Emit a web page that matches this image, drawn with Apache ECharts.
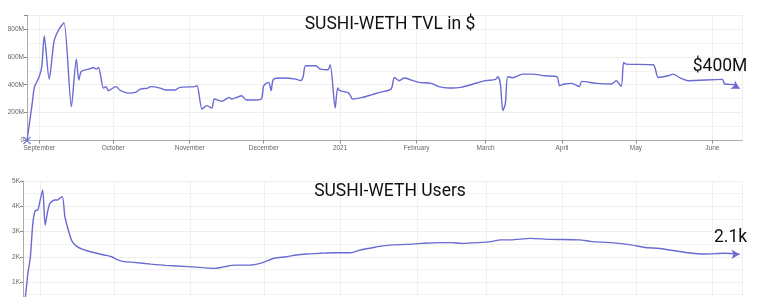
<!DOCTYPE html>
<html>
<head>
<meta charset="utf-8">
<script src="https://cdn.jsdelivr.net/npm/echarts@6/dist/echarts.min.js"></script>
<style>
  html, body { margin: 0; padding: 0; background: #fff; }
  #chart { width: 780px; height: 297px; }
</style>
</head>
<body>
<div id="chart"></div>
<script>
// TVL in millions of $
const tvlDates = [
  '2020-08-27', '2020-08-29', '2020-08-30', '2020-09-01', '2020-09-02', '2020-09-03', '2020-09-05',
  '2020-09-07', '2020-09-09', '2020-09-11', '2020-09-14', '2020-09-16', '2020-09-17', '2020-09-18',
  '2020-09-21', '2020-09-23', '2020-09-24', '2020-09-25', '2020-09-27', '2020-09-28', '2020-09-29',
  '2020-10-02', '2020-10-04', '2020-10-07', '2020-10-10', '2020-10-12', '2020-10-15', '2020-10-16',
  '2020-10-20', '2020-10-22', '2020-10-26', '2020-10-28', '2020-11-03', '2020-11-04', '2020-11-06',
  '2020-11-08', '2020-11-10', '2020-11-11', '2020-11-14', '2020-11-17', '2020-11-18', '2020-11-22',
  '2020-11-24', '2020-11-26', '2020-11-30', '2020-12-01', '2020-12-03', '2020-12-04', '2020-12-05',
  '2020-12-09', '2020-12-14', '2020-12-16', '2020-12-17', '2020-12-18', '2020-12-22', '2020-12-24',
  '2020-12-27', '2020-12-28', '2020-12-30', '2020-12-31', '2021-01-01', '2021-01-04', '2021-01-05',
  '2021-01-06', '2021-01-10', '2021-01-14', '2021-01-17', '2021-01-21', '2021-01-22', '2021-01-23',
  '2021-01-25', '2021-01-27', '2021-01-30', '2021-02-02', '2021-02-07', '2021-02-10', '2021-02-14',
  '2021-02-19', '2021-02-24', '2021-03-01', '2021-03-05', '2021-03-06', '2021-03-07', '2021-03-08',
  '2021-03-09', '2021-03-10', '2021-03-12', '2021-03-16', '2021-03-20', '2021-03-25', '2021-03-30',
  '2021-03-31', '2021-04-02', '2021-04-05', '2021-04-08', '2021-04-09', '2021-04-15', '2021-04-21',
  '2021-04-23', '2021-04-25', '2021-04-26', '2021-04-27', '2021-05-08', '2021-05-10', '2021-05-14',
  '2021-05-16', '2021-05-19', '2021-05-22', '2021-06-05', '2021-06-06', '2021-06-10', '2021-06-12'
];
const tvlValues = [
  0, 250, 380, 460, 530, 750, 440,
  714, 798, 845, 243, 583, 433, 495,
  512, 524, 512, 524, 376, 386, 357,
  386, 357, 340, 345, 369, 376, 386,
  376, 362, 362, 381, 386, 393, 226,
  250, 233, 298, 281, 309, 298, 321,
  290, 290, 298, 393, 417, 357, 440,
  448, 440, 429, 457, 536, 536, 512,
  507, 543, 233, 376, 357, 345, 329,
  298, 309, 329, 345, 362, 381, 452,
  429, 448, 433, 417, 410, 386, 376,
  381, 405, 429, 438, 457, 405, 214,
  262, 457, 450, 476, 476, 464, 457,
  393, 405, 410, 386, 424, 410, 405,
  429, 386, 559, 548, 543, 452, 464,
  476, 448, 429, 438, 405, 400, 372
];

// users in thousands
const userDates = [
  '2020-08-25', '2020-08-26', '2020-08-27', '2020-08-28', '2020-08-29', '2020-08-30', '2020-08-31',
  '2020-09-01', '2020-09-02', '2020-09-03', '2020-09-04', '2020-09-05', '2020-09-07', '2020-09-08',
  '2020-09-09', '2020-09-10', '2020-09-11', '2020-09-12', '2020-09-13', '2020-09-14', '2020-09-16',
  '2020-09-18', '2020-09-20', '2020-09-23', '2020-09-27', '2020-09-30', '2020-10-02', '2020-10-05',
  '2020-10-09', '2020-10-16', '2020-10-22', '2020-10-31', '2020-11-06', '2020-11-11', '2020-11-15',
  '2020-11-19', '2020-11-25', '2020-11-30', '2020-12-05', '2020-12-10', '2020-12-14', '2020-12-18',
  '2020-12-24', '2020-12-29', '2021-01-05', '2021-01-09', '2021-01-14', '2021-01-18', '2021-01-22',
  '2021-01-28', '2021-02-03', '2021-02-10', '2021-02-15', '2021-02-19', '2021-02-26', '2021-03-03',
  '2021-03-07', '2021-03-11', '2021-03-19', '2021-03-27', '2021-04-08', '2021-04-13', '2021-04-21',
  '2021-04-29', '2021-05-04', '2021-05-12', '2021-05-22', '2021-05-29', '2021-06-06', '2021-06-12'
];
const userValues = [
  0, 0.45, 1.35, 2.0, 3.33, 3.83, 3.85,
  4.25, 4.65, 3.25, 3.79, 4.12, 4.25, 4.25,
  4.32, 4.38, 3.6, 3.2, 2.86, 2.6, 2.4,
  2.3, 2.24, 2.16, 2.07, 2.0, 1.9, 1.81,
  1.78, 1.71, 1.66, 1.61, 1.57, 1.54, 1.61,
  1.67, 1.67, 1.76, 1.94, 2.0, 2.07, 2.11,
  2.14, 2.16, 2.16, 2.27, 2.36, 2.43, 2.47,
  2.49, 2.53, 2.56, 2.56, 2.53, 2.56, 2.6,
  2.67, 2.67, 2.73, 2.69, 2.67, 2.6, 2.56,
  2.47, 2.38, 2.31, 2.16, 2.11, 2.14, 2.1
];

const tvlTitle = 'SUSHI-WETH TVL in $';
const usersTitle = 'SUSHI-WETH Users';
const tvlLabel = '$400M';
const usersLabel = '2.1k';

const lineColor = '#6a6ad2';
const crossSymbol = 'path://M0,1L1,0L5,4L9,0L10,1L6,5L10,9L9,10L5,6L1,10L0,9L4,5Z';

function buildData(dates, values, endText, endRotate, labelOffset) {
  let data = dates.map((d, i) => [d, values[i]]);
  data[0] = { value: data[0], symbol: crossSymbol, symbolSize: 8 };
  let last = data.length - 1;
  data[last] = {
    value: data[last],
    symbol: 'arrow',
    symbolSize: [7, 8],
    symbolRotate: endRotate,
    label: {
      show: true,
      position: 'top',
      offset: labelOffset,
      formatter: endText,
      fontSize: 17.5,
      color: '#111',
      fontFamily: 'Roboto'
    }
  };
  return data;
}

function makeX(idx, min, max) {
  return {
    type: 'time',
    gridIndex: idx,
    min: min,
    max: max,
    minInterval: 28 * 86400000,
    axisLine: { lineStyle: { color: '#aaa' } },
    axisTick: { show: true, length: 3, lineStyle: { color: '#888' } },
    axisLabel: {
      fontSize: 6.5,
      color: '#666',
      margin: 4,
      hideOverlap: false,
      formatter: { year: '{yyyy}', month: '{MMMM}', day: '' }
    },
    splitLine: { show: true, lineStyle: { color: '#f0f0f0' } }
  };
}

function makeY(idx, max, interval, unit) {
  return {
    type: 'value',
    gridIndex: idx,
    min: 0,
    max: max,
    interval: interval,
    axisLine: { show: true, lineStyle: { color: '#aaa' } },
    axisTick: { show: true, length: 3, lineStyle: { color: '#888' } },
    axisLabel: {
      fontSize: 6.5,
      color: '#666',
      margin: 3,
      formatter: v => (v === 0 ? '0' : (v % interval === 0 ? v + unit : ''))
    },
    splitLine: { show: true, lineStyle: { color: '#eeeeee' } },
    minorTick: { show: false, splitNumber: 2 },
    minorSplitLine: { show: true, lineStyle: { color: '#f2f2f2' } }
  };
}

const chart = echarts.init(document.getElementById('chart'));

const titleStyle = { fontSize: 17.5, fontWeight: 'normal', color: '#111', fontFamily: 'Roboto' };

chart.setOption({
  animation: false,
  title: [
    { text: tvlTitle, left: 'center', top: 11, textStyle: titleStyle },
    { text: usersTitle, left: 'center', top: 178, textStyle: titleStyle }
  ],
  grid: [
    { left: 27, right: 38, top: 15, height: 125.5, outerBoundsMode: 'none' },
    { left: 23, right: 38, top: 181, height: 126.3, outerBoundsMode: 'none' }
  ],
  xAxis: [
    makeX(0, '2020-08-27', '2021-06-13'),
    makeX(1, '2020-08-25', '2021-06-13')
  ],
  yAxis: [
    makeY(0, 900, 200, 'M'),
    makeY(1, 5, 1, 'K')
  ],
  series: [
    {
      type: 'line',
      xAxisIndex: 0,
      yAxisIndex: 0,
      symbol: 'none',
      smooth: 0.25,
      lineStyle: { color: lineColor, width: 1.4 },
      itemStyle: { color: lineColor },
      data: buildData(tvlDates, tvlValues, tvlLabel, -120, [-16, 0])
    },
    {
      type: 'line',
      xAxisIndex: 1,
      yAxisIndex: 1,
      symbol: 'none',
      smooth: 0.25,
      lineStyle: { color: lineColor, width: 1.4 },
      itemStyle: { color: lineColor },
      data: buildData(userDates, userValues, usersLabel, -90, [-5, 2])
    }
  ]
});
</script>
</body>
</html>
